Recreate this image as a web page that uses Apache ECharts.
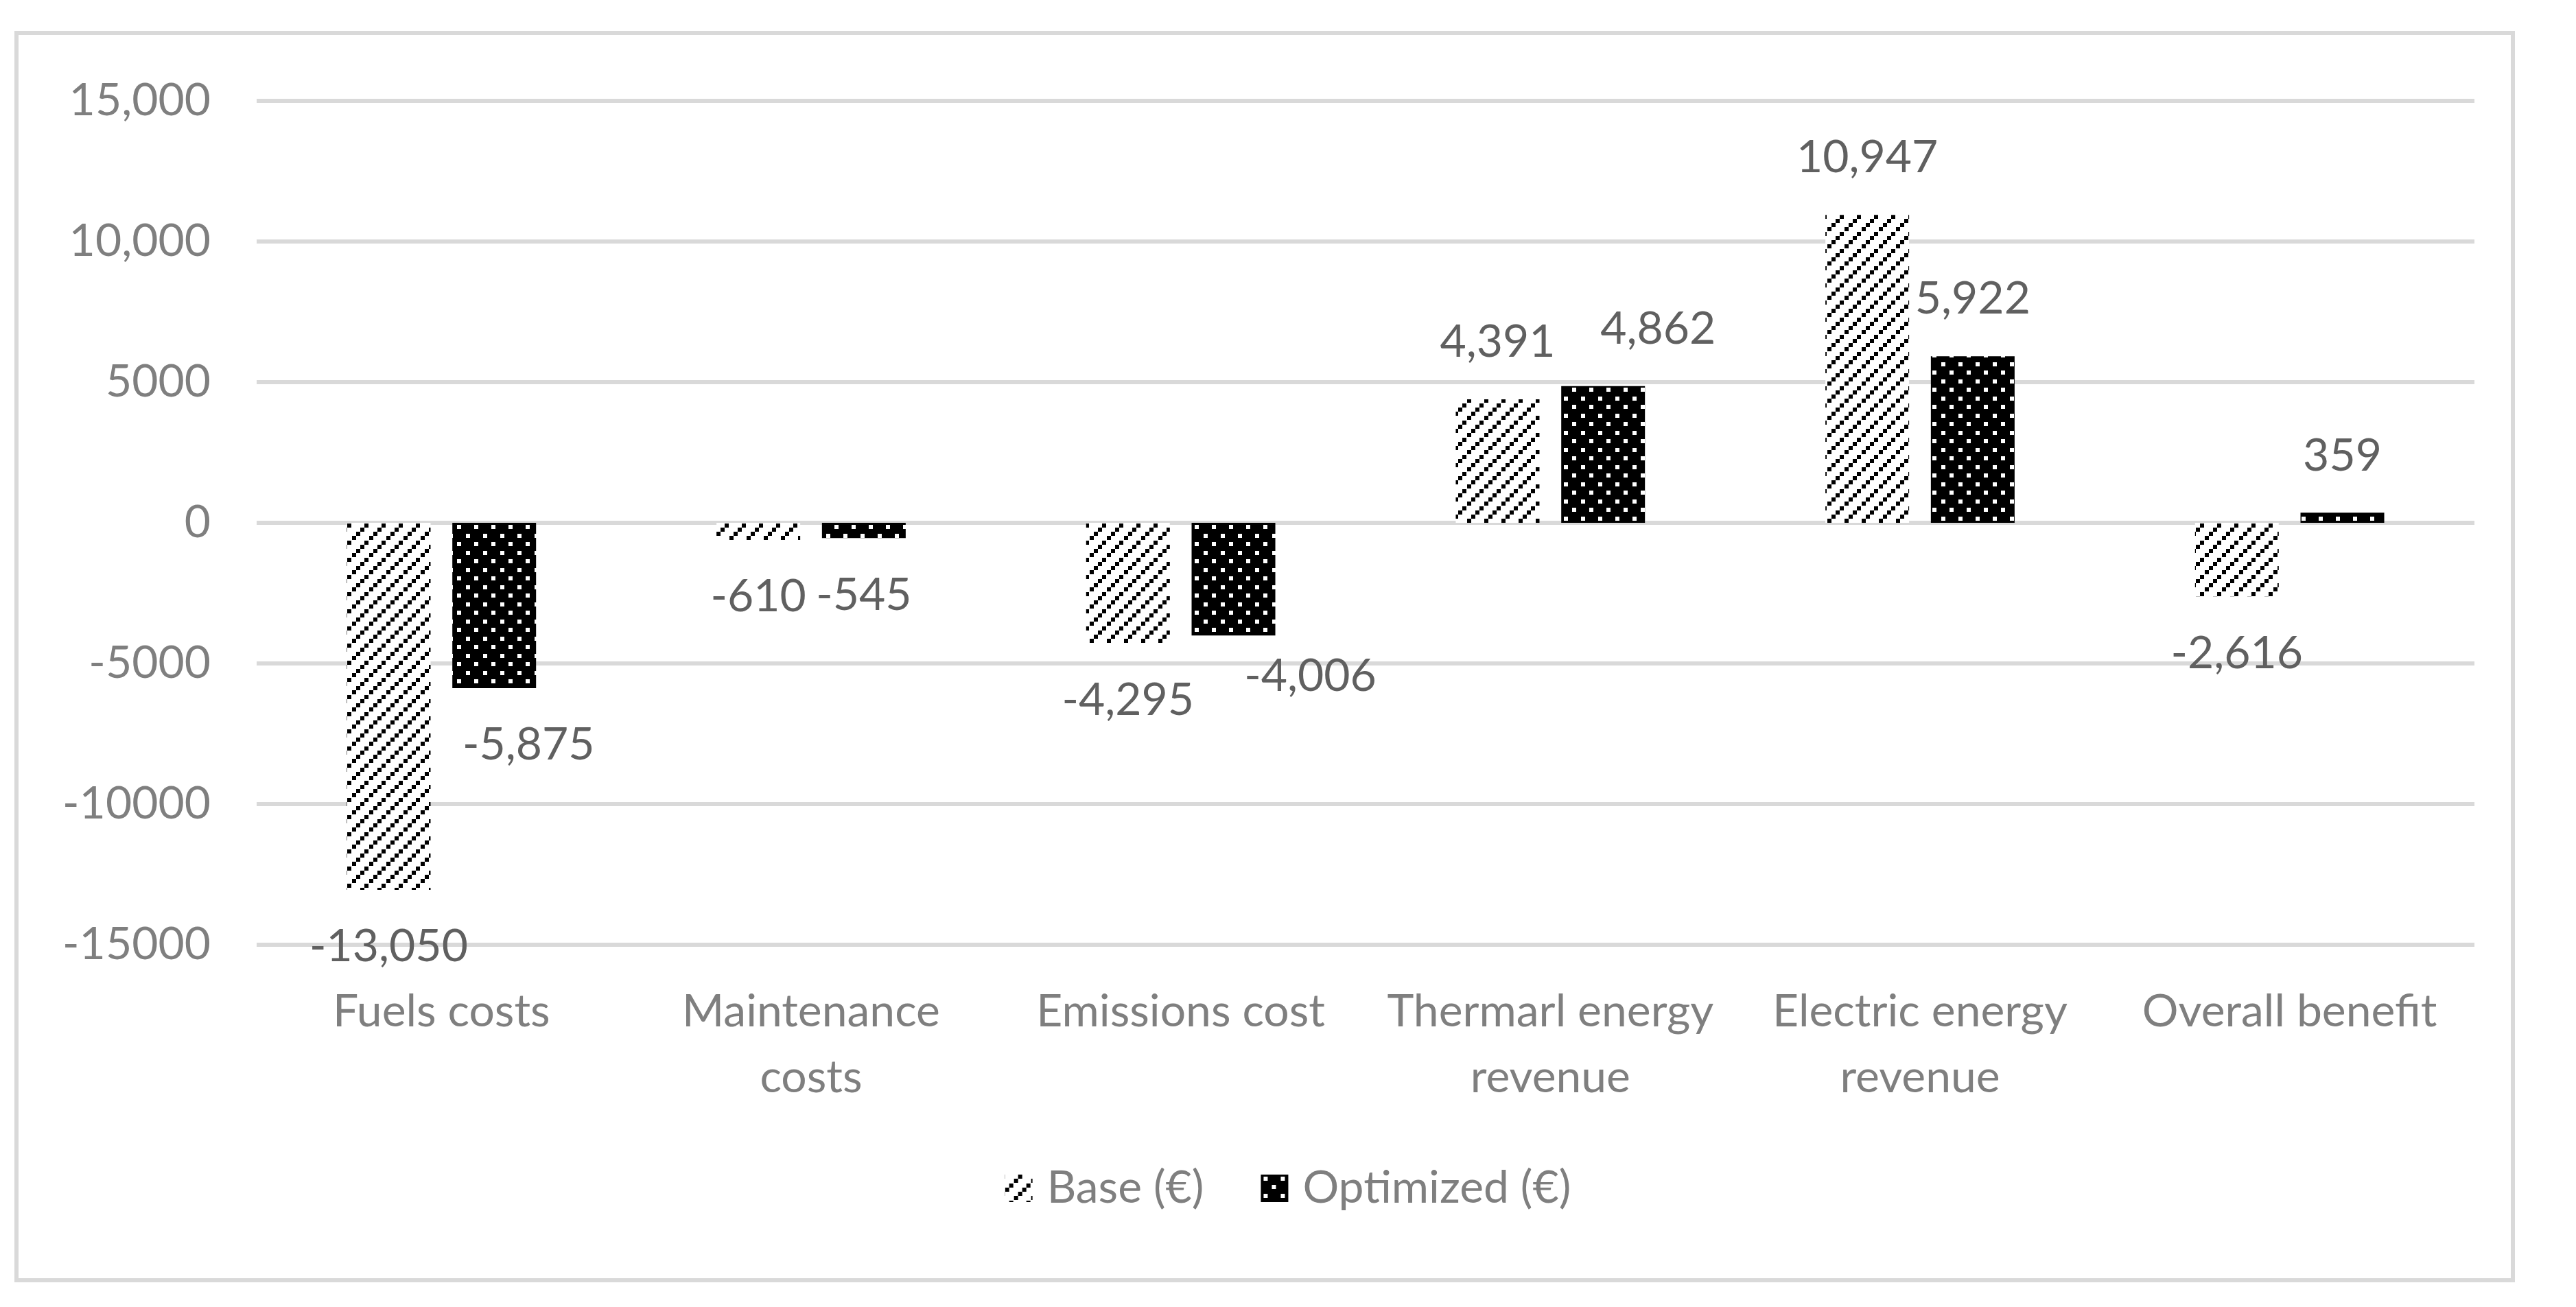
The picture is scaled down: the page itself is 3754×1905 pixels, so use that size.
<!DOCTYPE html>
<html>
<head>
<meta charset="utf-8">
<script src="https://cdn.jsdelivr.net/npm/echarts@6/dist/echarts.min.js"></script>
<style>
html,body{margin:0;padding:0;background:#fff;}
#chart{width:3754px;height:1905px;}
</style>
</head>
<body>
<div id="chart"></div>
<script>
// ---- data ----
const categories = ['Fuels costs', 'Maintenance\ncosts', 'Emissions cost', 'Thermarl energy\nrevenue', 'Electric energy\nrevenue', 'Overall benefit'];
const seriesNames = ['Base (€)', 'Optimized (€)'];
const baseValues = [-13050, -610, -4295, 4391, 10947, -2616];
const optimizedValues = [-5875, -545, -4006, 4862, 5922, 359];
const yTickValues = [15000, 10000, 5000, 0, -5000, -10000, -15000];
const yTickLabels = ['15,000', '10,000', '5000', '0', '-5000', '-10000', '-15000'];

// ---- label nudges (style only) ----
const baseLabelOffsets = [[0,0],[0,0],[0,0],[0,0],[0,0],[0,0]];
const optLabelOffsets = [[50,0],[0,0],[112,-24],[80,0],[0,0],[0,0]];

// ---- patterns ----
function hatchPattern() {
  const c = document.createElement('canvas');
  const s = 25;
  c.width = s; c.height = s;
  const g = c.getContext('2d');
  g.fillStyle = '#ffffff'; g.fillRect(0,0,s,s);
  g.fillStyle = '#000000';
  const st = s/4;
  for (let i = 0; i < 4; i++) {
    g.fillRect(Math.round(i*st), Math.round(s - st - i*st), 6, 6);
  }
  return c;
}
function dotPattern() {
  const c = document.createElement('canvas');
  const s = 25;
  c.width = s; c.height = s;
  const g = c.getContext('2d');
  g.fillStyle = '#000000'; g.fillRect(0,0,s,s);
  g.fillStyle = '#ffffff';
  g.fillRect(4, 3, 6, 6);
  g.fillRect(16, 15, 6, 6);
  return c;
}

const FONT = 'Lato, "Open Sans", sans-serif';
const AXIS_GRAY = '#7f7f7f';
const LABEL_GRAY = '#606060';
const fmt = v => {
  const s = Math.abs(v).toString().replace(/\B(?=(\d{3})+(?!\d))/g, ',');
  return (v < 0 ? '-' : '') + s;
};

function buildData(values, offsets) {
  return values.map((v, i) => ({
    value: v,
    label: { position: v < 0 ? 'bottom' : 'top', offset: offsets[i] }
  }));
}

const labelStyle = {
  show: true,
  distance: 50,
  fontFamily: FONT,
  fontSize: 66,
  color: LABEL_GRAY,
  formatter: p => fmt(p.value)
};

const chart = echarts.init(document.getElementById('chart'), null, {renderer: 'canvas'});
chart.setOption({
  backgroundColor: '#ffffff',
  animation: false,
  graphic: [{
    type: 'rect',
    shape: { x: 24, y: 48, width: 3638, height: 1818 },
    style: { fill: 'none', stroke: '#d9d9d9', lineWidth: 6 },
    silent: true
  }],
  grid: { left: 374, right: 148, top: 147, bottom: 528, containLabel: false },
  legend: {
    data: seriesNames,
    left: 'center',
    top: 1694,
    itemWidth: 40,
    itemHeight: 40,
    itemGap: 83,
    icon: 'rect',
    textStyle: { fontFamily: FONT, fontSize: 66, color: AXIS_GRAY, padding: [0, 0, 0, 16] }
  },
  xAxis: {
    type: 'category',
    data: categories,
    axisLine: { show: false, onZero: false },
    axisTick: { show: false },
    axisLabel: {
      interval: 0,
      margin: 50,
      fontFamily: FONT,
      fontSize: 66,
      lineHeight: 96,
      color: AXIS_GRAY
    }
  },
  yAxis: {
    type: 'value',
    min: -15000,
    max: 15000,
    interval: 5000,
    axisLine: { show: false },
    axisTick: { show: false },
    splitLine: { lineStyle: { color: '#d9d9d9', width: 6 } },
    axisLabel: {
      margin: 67,
      fontFamily: FONT,
      fontSize: 66,
      color: AXIS_GRAY,
      formatter: v => {
        const i = yTickValues.indexOf(v);
        return i >= 0 ? yTickLabels[i] : '';
      }
    }
  },
  series: [
    {
      name: seriesNames[0],
      type: 'bar',
      barWidth: 122,
      barGap: '26%',
      data: buildData(baseValues, baseLabelOffsets),
      itemStyle: { color: { image: hatchPattern(), repeat: 'repeat' } },
      label: labelStyle
    },
    {
      name: seriesNames[1],
      type: 'bar',
      barWidth: 122,
      barGap: '26%',
      data: buildData(optimizedValues, optLabelOffsets),
      itemStyle: { color: { image: dotPattern(), repeat: 'repeat' } },
      label: labelStyle
    }
  ]
});
</script>
</body>
</html>
